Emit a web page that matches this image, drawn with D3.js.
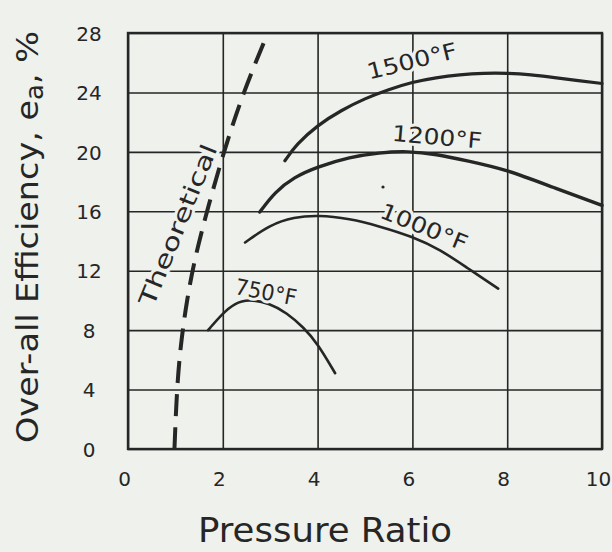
<!DOCTYPE html>
<html>
<head>
<meta charset="utf-8">
<script src="https://cdn.jsdelivr.net/npm/d3@7"></script>
<style>
  html, body { margin: 0; padding: 0; background: #eef1ec; }
  svg { display: block; }
  text { font-family: "DejaVu Sans", sans-serif; fill: #262626; }
</style>
</head>
<body>
<svg id="chart" width="612" height="552"></svg>
<script>
// ---- data ----
const xTicks = [0, 2, 4, 6, 8, 10];
const yTicks = [0, 4, 8, 12, 16, 20, 24, 28];

// [pressure ratio, efficiency %]
const theoretical = [[0.98, 0], [1.03, 4], [1.11, 7], [1.24, 10], [1.42, 13], [1.69, 16.3], [2.02, 20], [2.43, 24], [2.95, 28]];
const curve1500 = [[3.31, 19.4], [3.55, 20.5], [4, 21.8], [4.5, 22.8], [5, 23.6], [5.5, 24.2], [6, 24.7], [6.5, 25.0], [7, 25.2], [7.5, 25.3], [8, 25.3], [8.5, 25.2], [9, 25.0], [9.5, 24.8], [10, 24.6]];
const curve1200 = [[2.78, 15.95], [3.1, 17.3], [3.5, 18.3], [4, 19.0], [4.68, 19.65], [5.3, 19.95], [5.9, 20.05], [6.5, 19.85], [7.15, 19.4], [8, 18.8], [8.97, 17.6], [10, 16.4]];
const curve1000 = [[2.47, 13.9], [3, 15.1], [3.5, 15.6], [4, 15.75], [4.68, 15.5], [5.3, 15.0], [6, 14.3], [6.6, 13.4], [7.15, 12.2], [7.81, 10.8]];
const curve750 = [[1.69, 8.0], [2, 9.15], [2.25, 9.8], [2.53, 10.1], [3, 9.8], [3.35, 9.15], [3.7, 8.2], [4, 7.1], [4.37, 5.1]];

const curveLabels = [
  { text: "1500°F", x: 412, y: 61, angle: -14, len: 92 },
  { text: "1200°F", x: 437, y: 137, angle: 5, len: 90 },
  { text: "1000°F", x: 424, y: 227, angle: 22, len: 92 },
  { text: "750°F", x: 266, y: 292, angle: 11, len: 62 }
];

// ---- layout ----
const svg = d3.select("#chart");
const margin = { left: 128, top: 33 };
const w = 474, h = 416;
const bg = "#eef1ec";
const ink = "#262626";

const x = d3.scaleLinear().domain([0, 10]).range([0, w]);
const y = d3.scaleLinear().domain([0, 28]).range([h, 0]);

const g = svg.append("g").attr("transform", `translate(${margin.left},${margin.top})`);

// grid via axes
const xAxis = g.append("g")
  .attr("transform", `translate(0,${h})`)
  .call(d3.axisBottom(x).tickValues(xTicks).tickSize(-h).tickSizeOuter(0).tickPadding(27));
const yAxis = g.append("g")
  .call(d3.axisLeft(y).tickValues(yTicks).tickSize(-w).tickSizeOuter(0).tickPadding(39));

[xAxis, yAxis].forEach(a => {
  a.select(".domain").remove();
  a.selectAll(".tick line").attr("stroke", ink).attr("stroke-width", 1.6);
  a.selectAll(".tick text")
    .style("font-family", "DejaVu Sans, sans-serif")
    .style("font-size", "20px")
    .attr("fill", ink);
});
yAxis.selectAll(".tick text").attr("text-anchor", "middle").attr("dy", "0.36em");
xAxis.selectAll(".tick text").attr("dy", "0.5em").attr("dx", -4);

// frame
g.append("rect")
  .attr("width", w).attr("height", h)
  .attr("fill", "none").attr("stroke", ink).attr("stroke-width", 2.4);

// curves
const line = d3.line().x(d => x(d[0])).y(d => y(d[1])).curve(d3.curveBasis);

g.append("path")
  .attr("d", line(theoretical))
  .attr("fill", "none").attr("stroke", ink)
  .attr("stroke-width", 4)
  .attr("stroke-dasharray", "22 11");

[[curve1500, 3.2], [curve1200, 3.4], [curve1000, 2.6], [curve750, 2.6]].forEach(([pts, sw]) => {
  g.append("path")
    .attr("d", line(pts))
    .attr("fill", "none").attr("stroke", ink)
    .attr("stroke-width", sw)
    .attr("stroke-linecap", "round");
});

// curve labels (halo breaks the grid like the original)
curveLabels.forEach(l => {
  svg.append("text")
    .attr("transform", `translate(${l.x},${l.y}) rotate(${l.angle})`)
    .attr("text-anchor", "middle")
    .attr("dy", "0.35em")
    .attr("textLength", l.len)
    .attr("lengthAdjust", "spacingAndGlyphs")
    .style("font-size", "22px")
    .attr("stroke", bg).attr("stroke-width", 6)
    .style("paint-order", "stroke")
    .text(l.text);
});

svg.append("text")
  .attr("transform", "translate(178,225) rotate(-68)")
  .attr("text-anchor", "middle")
  .attr("dy", "0.35em")
  .attr("textLength", 172)
  .attr("lengthAdjust", "spacingAndGlyphs")
  .style("font-size", "23px")
  .attr("stroke", bg).attr("stroke-width", 6)
  .style("paint-order", "stroke")
  .text("Theoretical");

// axis titles
svg.append("text")
  .attr("x", 325).attr("y", 542)
  .attr("text-anchor", "middle")
  .attr("textLength", 254)
  .attr("lengthAdjust", "spacingAndGlyphs")
  .style("font-size", "34px")
  .text("Pressure Ratio");

const yt = svg.append("text")
  .attr("transform", "translate(38,237) rotate(-90)")
  .attr("text-anchor", "middle")
  .attr("textLength", 412)
  .attr("lengthAdjust", "spacingAndGlyphs")
  .style("font-size", "31px");
yt.append("tspan").text("Over-all Efficiency, e");
yt.append("tspan").attr("dy", 5).style("font-size", "24px").text("a");
yt.append("tspan").attr("dy", -5).text(", %");

// small stray mark in the original drawing
svg.append("circle").attr("cx", 383).attr("cy", 187).attr("r", 1.6).attr("fill", ink);
</script>
</body>
</html>
